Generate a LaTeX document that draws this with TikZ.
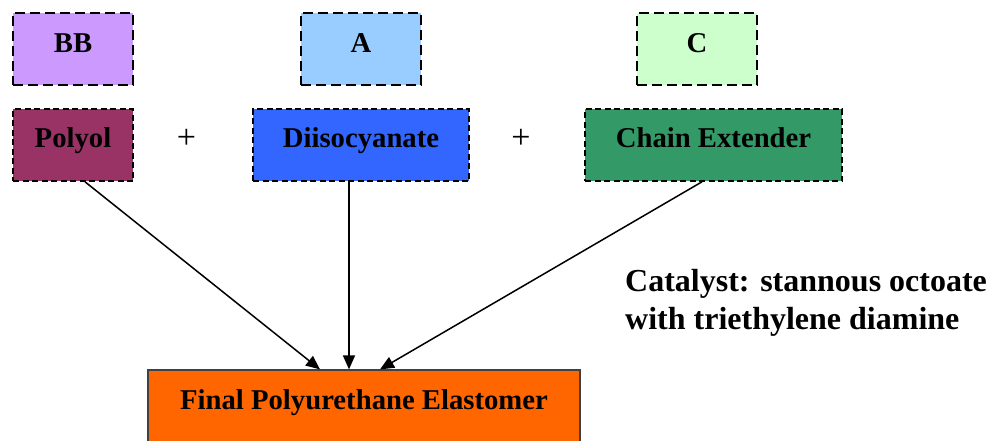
\documentclass[tikz,border=0pt]{standalone}
\usepackage{fontspec}
\setmainfont{Liberation Serif}
\usetikzlibrary{arrows.meta,calc}
\definecolor{cbb}{HTML}{CC99FF}
\definecolor{ca}{HTML}{99CCFF}
\definecolor{cc}{HTML}{CCFFCC}
\definecolor{cpoly}{HTML}{993366}
\definecolor{cdiiso}{HTML}{3366FF}
\definecolor{cchain}{HTML}{339966}
\definecolor{cfinal}{HTML}{FF6600}
\tikzset{
  labelbox/.style={draw=black, line width=1.8pt, dash pattern=on 10pt off 5pt, minimum height=72pt, inner sep=0pt, text height=16pt, text depth=10pt, font=\fontsize{28.7}{32}\selectfont\bfseries},
  compbox/.style={draw=black, line width=1.6pt, dash pattern=on 6pt off 3.5pt, minimum height=72pt, inner sep=0pt, text height=15pt, text depth=10pt, font=\fontsize{28.7}{32}\selectfont\bfseries},
  finalbox/.style={draw=black!75, line width=1.2pt, fill=cfinal, minimum width=432pt, minimum height=75pt, inner sep=0pt},
  plussign/.style={font=\fontsize{34}{36}\selectfont, inner sep=0pt, text height=19pt, text depth=0pt},
  conn/.style={line width=1.5pt, -{Triangle[length=14pt,width=12pt]}}
}
\begin{document}
\begin{tikzpicture}[x=1pt,y=-1pt]
\useasboundingbox (0,0) rectangle (988,440);
\node[labelbox, fill=cbb, minimum width=120pt] (bb) at (73,49) {BB};
\node[labelbox, fill=ca, minimum width=120pt] (a) at (361,49) {A};
\node[labelbox, fill=cc, minimum width=120pt] (c) at (697,49) {C};
\node[compbox, fill=cpoly, minimum width=120pt] (polyol) at (73,145) {Polyol};
\node[compbox, fill=cdiiso, minimum width=216pt] (diiso) at (361,145) {Diisocyanate};
\node[compbox, fill=cchain, minimum width=257pt] (chain) at (713.5,145) {Chain Extender};
\node[plussign] (plus1) at (186.5,138.5) {+};
\node[plussign] (plus2) at (521,138.5) {+};
\node[finalbox, label={[name=finaltext, yshift=0.5pt, inner sep=0pt, text height=15pt, text depth=10pt, font=\fontsize{28.7}{32}\selectfont\bfseries]center:Final Polyurethane Elastomer}] (final) at (364,407.5) {};
\node[anchor=west, align=left, inner sep=0pt, font=\fontsize{32}{38}\selectfont\bfseries] (cat) at (625,303) {Catalyst: stannous octoate\\with triethylene diamine};
\draw[conn] ($(polyol.south)+(12,0)$) -- ($(final.north)+(-44,0)$);
\draw[conn] ($(diiso.south)+(-12,0)$) -- ($(final.north)+(-15,0)$);
\draw[conn] ($(chain.south)+(-11.5,0)$) -- ($(final.north)+(16,0)$);
\end{tikzpicture}
\end{document}
